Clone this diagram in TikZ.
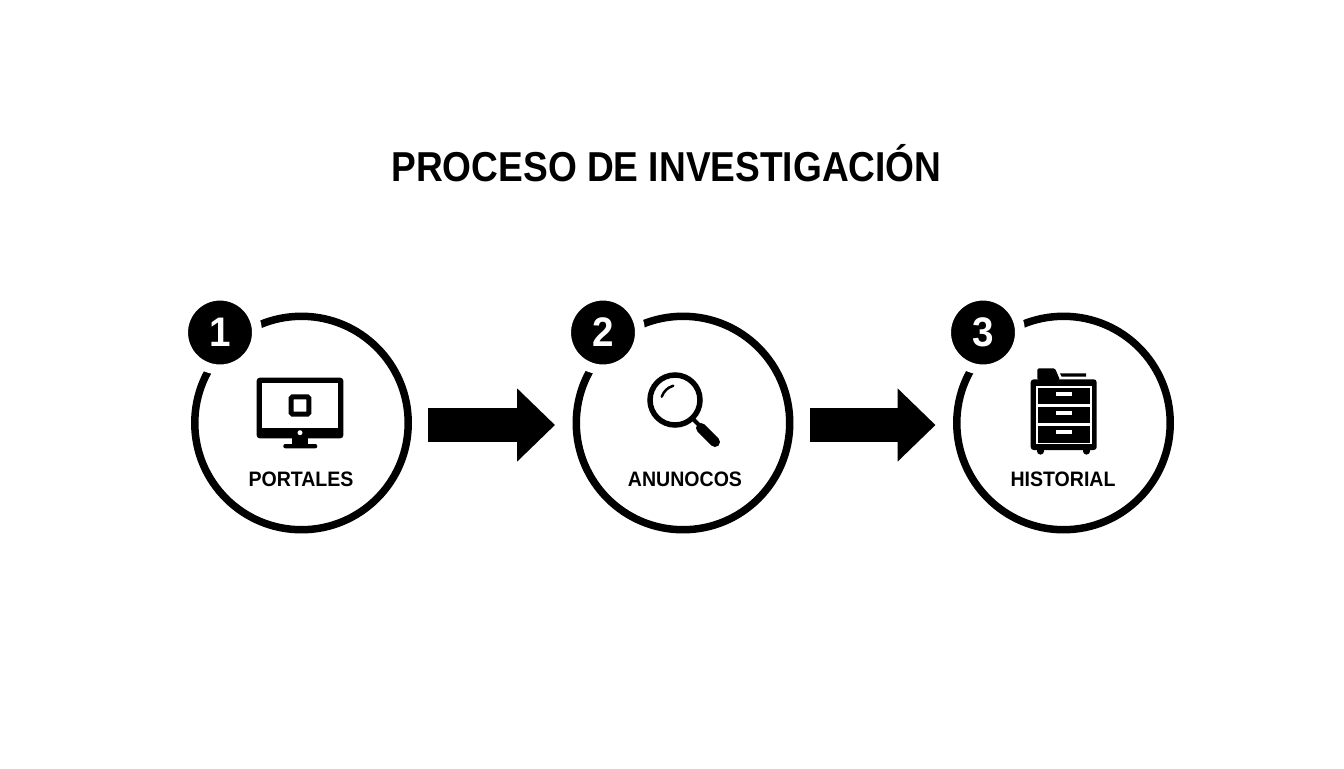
\documentclass[tikz,border=0pt]{standalone}
\usepackage{fontspec}
\setmainfont[FakeStretch=.935]{Liberation Sans}
\newfontfamily\titlefont[FakeStretch=.887]{Liberation Sans}
\usetikzlibrary{arrows.meta}

\begin{document}
\begin{tikzpicture}
  [x=.02cm,y=-.02cm,
   stepcircle/.style={circle,draw,line width=.15cm,minimum size=4.27cm,inner sep=0},
   badge/.style={circle,fill=black,draw=white,line width=.2cm,minimum size=1.48cm,inner sep=0,
     text=white,font=\fontsize{23.5}{28}\selectfont\bfseries},
   steplabel/.style={anchor=base,inner sep=0,font=\fontsize{11.9}{14}\selectfont\bfseries},
   blockarrow/.style={line width=.68cm,-{Triangle[length=.76cm,width=1.42cm]}}]
  \useasboundingbox (0,0) rectangle (1344,768);

  \node [anchor=base,inner sep=0,font=\titlefont\fontsize{23.8}{28}\selectfont\bfseries] (title) at (666.5,181.7) {PROCESO DE INVESTIGACIÓN};

  \node [stepcircle] (c1) at (301.5,423) {};
  \node [stepcircle] (c2) at (683,423)   {};
  \node [stepcircle] (c3) at (1063.5,423) {};

  \node [badge] (b1) at (220,332.5) {1};
  \node [badge] (b2) at (603,332.5) {2};
  \node [badge] (b3) at (983,332.5) {3};

  \node [steplabel] (l1) at (301,486.7)  {PORTALES};
  \node [steplabel] (l2) at (685,486.7)  {ANUNOCOS};
  \node [steplabel] (l3) at (1063,486.7) {HISTORIAL};

  \foreach \from/\to in {c1/c2, c2/c3}
    \draw [blockarrow,shorten <=.33cm,shorten >=.35cm] ([yshift=-.04cm]\from.east) -- ([yshift=-.04cm]\to.west);

  % monitor
  \fill [rounded corners=.06cm] (256.7,377.7) rectangle (343.3,438.3);
  \fill [white] (262.3,383.3) rectangle (338.3,428.3);
  \draw [line width=.1cm,rounded corners=.03cm] (291.2,396.8) rectangle (308.8,414.2);
  \fill [white] (300,432.7) circle [radius=2.5];
  \fill (292,438) rectangle (308,445);
  \fill [rounded corners=.04cm] (283.3,444) rectangle (317.3,448.3);

  % magnifier
  \draw [line width=.11cm] (675,400) circle [radius=25];
  \draw [line width=.05cm,line cap=round] (661.7,396.7) to [bend left=25] (673.3,385.7);
  \draw [line width=.08cm] (693,419) -- (702,428);
  \draw [line width=.2cm,line cap=round] (701,428) -- (715,442);

  % cabinet
  \fill [rounded corners=.06cm] (1030.7,379.3) rectangle (1096.7,450);
  \fill [white] (1036,385.7) rectangle (1091.7,444.3);
  \fill (1038,387.7) rectangle (1090,404.3);
  \fill (1038,406.7) rectangle (1090,423.3);
  \fill (1038,426) rectangle (1090,442.7);
  \foreach \y in {391.7,410.7,430}
    \fill [white] (1056,\y) rectangle (1072,\y+4);
  \foreach \x in {1040.5,1086.5}
    \fill (\x,451) circle [radius=3.6];
  \fill [rounded corners=.03cm] (1037.3,380) -- (1037.3,368.3) -- (1055,368.3) -- (1060,380) -- cycle;
  \fill (1060,373.3) -- (1086,373.3) -- (1086,376.7) -- (1061.7,376.7) -- cycle;
\end{tikzpicture}
\end{document}
